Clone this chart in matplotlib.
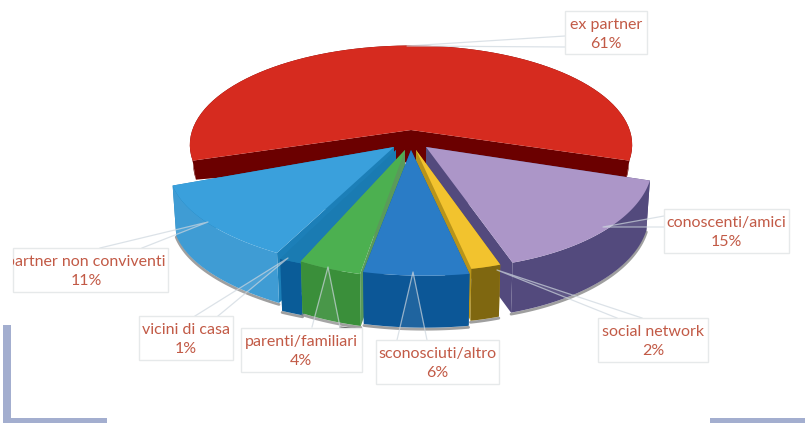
import numpy as np
import matplotlib
matplotlib.use("Agg")
import matplotlib.pyplot as plt
from matplotlib.patches import Polygon, Rectangle
from matplotlib.transforms import Bbox, TransformedBbox

# ---- data (clockwise, first slice centred on the back of the pie) ----
categories = ["ex partner", "conoscenti/amici", "social network", "sconosciuti/altro",
              "parenti/familiari", "vicini di casa", "partner non conviventi"]
shares = [61, 15, 2, 6, 4, 1, 11]

# ---- styling per slice ----
top_colors = ["#d62b1f", "#ac96c8", "#f2c32e", "#2a7cc6", "#4cb050", "#1a7bb2", "#3aa0dc"]
rim_colors = ["#6b0000", "#534a7d", "#7f6710", "#0c5797", "#3a8f3a", "#0a5c98", "#3f9cd4"]
cut_colors = ["#6b0000", "#534a7d", "#b8941a", "#0c5797", "#5a9a5a", "#1a7bb2", "#1c7fb8"]
rim_center = [(411, 126), (442, 144), (434, 146), (425, 151), (417, 153), (484, 155), (437, 149)]
apex = [(411, 130), (426, 147), (416, 150), (411, 150), (405, 150), (396, 150), (394, 147)]
scale_x = [0.94, 0.895, 0.84, 1, 0.92, 1.45, 1.138]
scale_y = [0.948, 1, 1, 1, 1, 1, 1]
depth = [19, 50, 52, 52, 52, 52, 50]
apex_depth = [32, 50, 52, 52, 52, 52, 50]
draw_order = [0, 6, 1, 5, 4, 2, 3]

# label boxes: x0, y0, x1, y1
boxes = [(565, 11, 647, 54), (664, 209, 789, 253), (598, 318, 708, 362), (376, 340, 499, 384),
         (241, 328, 362, 372), (139, 316, 233, 360), (13, 248, 168, 292)]
label_cx = [606, 726, 653, 437, 301, 186, 86]
leaders = [[(565, 36), (407, 46), (565, 47)],
           [(664, 216), (603, 227), (664, 227)],
           [(642, 318), (497, 270), (617, 318)],
           [(427, 340), (413, 272), (397, 340)],
           [(340, 327), (328, 267), (312, 327)],
           [(218, 316), (288, 258), (195, 316)],
           [(142, 248), (208, 222), (100, 248)]]

A, B, P = 231.0, 101.0, 0.19
TEXT = "#c25a46"

fig = plt.figure(figsize=(8.05, 4.23), dpi=100)
ax = fig.add_axes([0, 0, 1, 1])
ax.set_xlim(0, 805)
ax.set_ylim(423, 0)
ax.axis("off")


def rim(a0, a1, c, sx, sy, dy=0.0, shrink=1.0):
    th = np.radians(np.linspace(a0, a1, 80))
    u, v = np.cos(th), np.sin(th)
    w = 1 + P * v
    x = c[0] + sx * A * u / w
    return np.column_stack((411 + shrink * (x - 411), c[1] - sy * B * v / w + dy))


# corner decoration
deco = "#a3aecf"
ax.add_patch(Rectangle((3, 325), 8, 98, fc=deco, ec="none", zorder=1))
ax.add_patch(Rectangle((3, 418), 104, 5, fc=deco, ec="none", zorder=1))
ax.add_patch(Rectangle((710, 418), 95, 5, fc=deco, ec="none", zorder=1))

# angles from the values
total = sum(shares)
spans = [v / total * 360 for v in shares]
start = 90 + spans[0] / 2
edges = [start]
for sp in spans:
    edges.append(edges[-1] - sp)

z = 2
for i in draw_order:
    a0, a1 = edges[i], edges[i + 1]
    top = rim(a0, a1, rim_center[i], scale_x[i], scale_y[i])
    low = rim(a0, a1, rim_center[i], scale_x[i], scale_y[i], depth[i], 0.985)
    ap = np.array(apex[i], float)
    ap_low = ap + (0, apex_depth[i])
    if i != 0:
        ax.plot(low[:, 0], low[:, 1] + 1.5, color="#777777", lw=2, alpha=0.7, zorder=z,
                solid_capstyle="round")
    for end, end_low in ((top[0], low[0]), (top[-1], low[-1])):
        ax.add_patch(Polygon([ap, end, end_low, ap_low], closed=True, fc=cut_colors[i],
                             ec="none", zorder=z))
    ax.add_patch(Polygon(np.vstack((top, low[::-1])), closed=True, fc=rim_colors[i],
                         ec="none", zorder=z))
    ax.add_patch(Polygon(np.vstack(([ap], top)), closed=True, fc=top_colors[i],
                         ec="none", zorder=z))
    z += 1

# small dark stub of the parenti/familiari leader
stub = np.array([(340, 327), (361, 329), (362, 334)])
ax.plot(stub[:, 0], stub[:, 1], color="#555555", lw=0.8, zorder=20)

# labels and leaders
for name, val, box, cx, lead in zip(categories, shares, boxes, label_cx, leaders):
    x0, y0, x1, y1 = box
    pts = np.array(lead)
    ax.add_patch(Polygon(pts, closed=True, fc="white", ec="none", alpha=0.08, zorder=20))
    ax.plot(pts[:, 0], pts[:, 1], color="#cdd6de", lw=0.9, alpha=0.7, zorder=20)
    ax.add_patch(Rectangle((x0, y0), x1 - x0, y1 - y0, fc="white", ec="#e6e9ea", lw=1, zorder=21))
    clip = TransformedBbox(Bbox([[x0, y0], [x1, y1]]), ax.transData)
    for txt, yy in ((name, y0 + 14), (f"{val}%", y0 + 33)):
        t = ax.text(cx, yy, txt, color=TEXT, ha="center", va="center", family="Lato",
                    fontsize=11.5, zorder=22)
        t.set_clip_box(clip)
        t.set_clip_on(True)

fig.savefig("out.png", dpi=100)
